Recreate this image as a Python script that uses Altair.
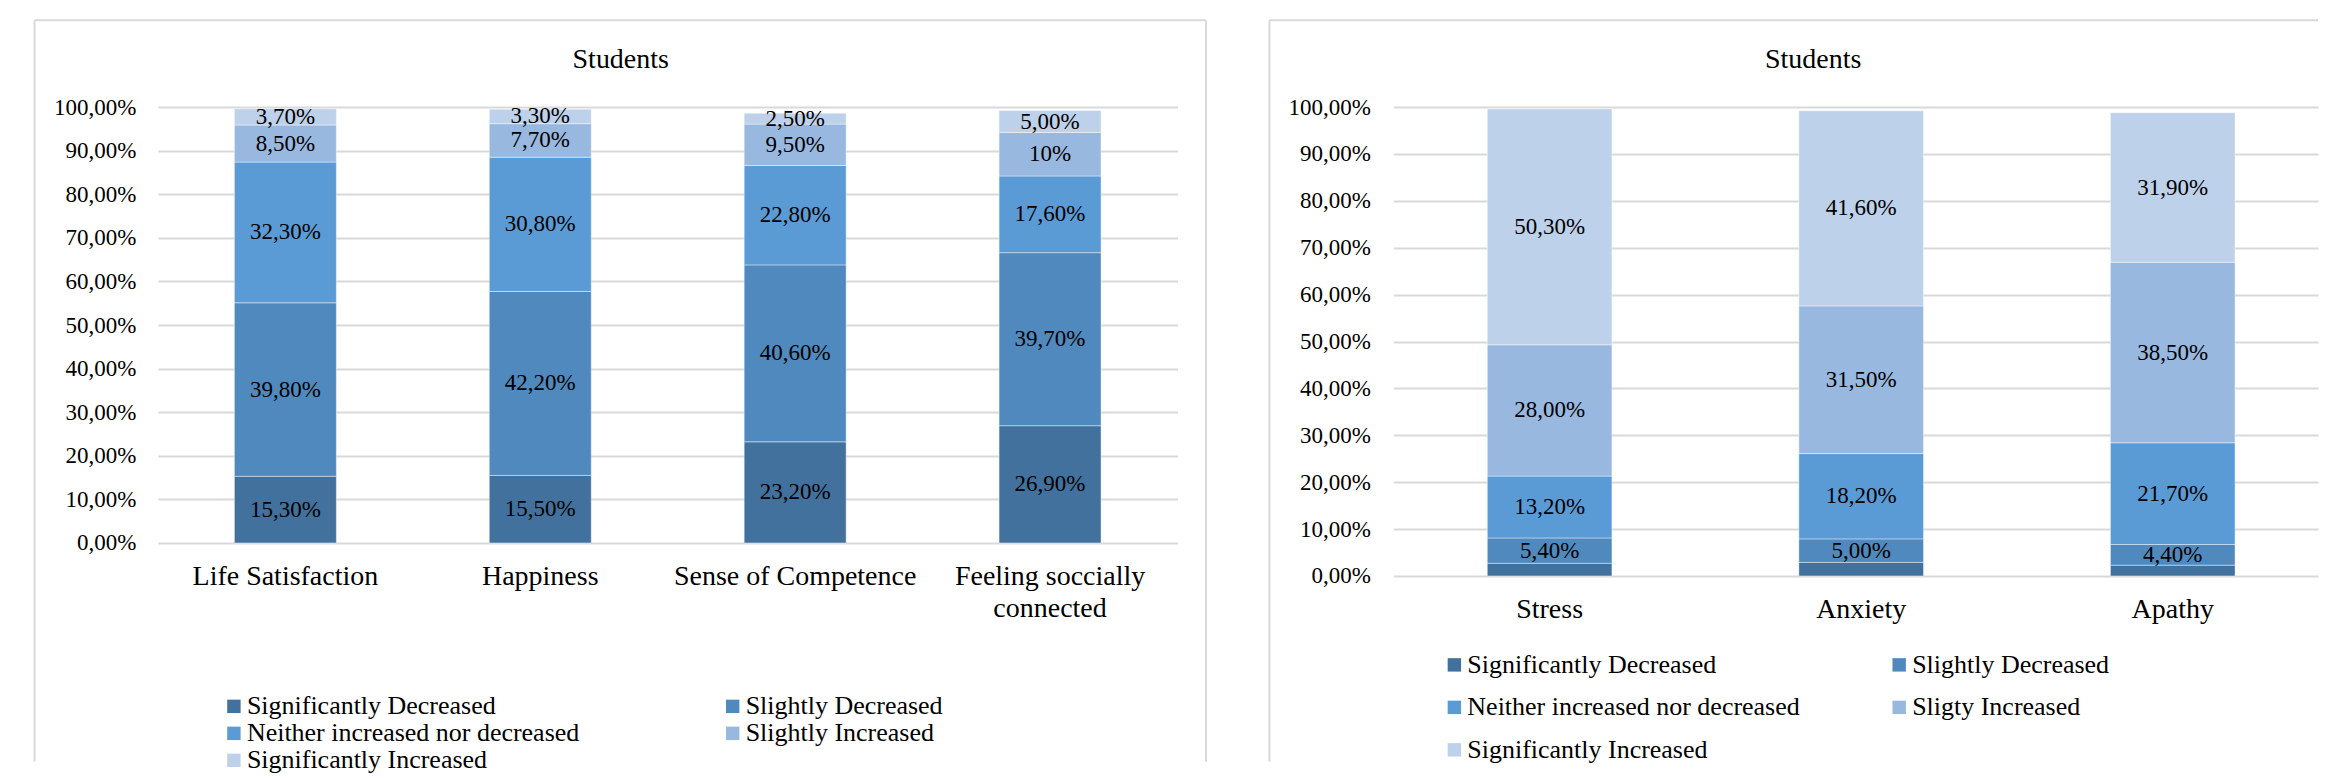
import altair as alt
import pandas as pd

FONT = "Liberation Serif"

# ---------------- data: left panel ----------------
left_title = "Students"
left_categories = ["Life Satisfaction", "Happiness", "Sense of Competence", "Feeling soccially connected"]
left_series = ["Significantly Decreased", "Slightly Decreased", "Neither increased nor decreased",
               "Slightly Increased", "Significantly Increased"]
left_sig_dec = [15.3, 15.5, 23.2, 26.9]
left_sli_dec = [39.8, 42.2, 40.6, 39.7]
left_neither = [32.3, 30.8, 22.8, 17.6]
left_sli_inc = [8.5, 7.7, 9.5, 10.0]
left_sig_inc = [3.7, 3.3, 2.5, 5.0]
left_lab_sig_dec = ["15,30%", "15,50%", "23,20%", "26,90%"]
left_lab_sli_dec = ["39,80%", "42,20%", "40,60%", "39,70%"]
left_lab_neither = ["32,30%", "30,80%", "22,80%", "17,60%"]
left_lab_sli_inc = ["8,50%", "7,70%", "9,50%", "10%"]
left_lab_sig_inc = ["3,70%", "3,30%", "2,50%", "5,00%"]

# ---------------- data: right panel ----------------
right_title = "Students"
right_categories = ["Stress", "Anxiety", "Apathy"]
right_series = ["Significantly Decreased", "Slightly Decreased", "Neither increased nor decreased",
                "Sligty Increased", "Significantly Increased"]
right_sig_dec = [2.7, 2.9, 2.3]
right_sli_dec = [5.4, 5.0, 4.4]
right_neither = [13.2, 18.2, 21.7]
right_sli_inc = [28.0, 31.5, 38.5]
right_sig_inc = [50.3, 41.6, 31.9]
right_lab_sig_dec = ["", "", ""]
right_lab_sli_dec = ["5,40%", "5,00%", "4,40%"]
right_lab_neither = ["13,20%", "18,20%", "21,70%"]
right_lab_sli_inc = ["28,00%", "31,50%", "38,50%"]
right_lab_sig_inc = ["50,30%", "41,60%", "31,90%"]

y_ticks = [0, 10, 20, 30, 40, 50, 60, 70, 80, 90, 100]
colors = ["#41719C", "#4F89BD", "#5B9BD5", "#98B8DF", "#BDD1EA"]

GRID = "#D9D9D9"


def build_df(cats, series, values, labels):
    rows = []
    for si, (name, vals, labs) in enumerate(zip(series, values, labels)):
        for ci, cat in enumerate(cats):
            rows.append({"cat": cat, "series": name, "idx": si,
                         "value": vals[ci], "label": labs[ci]})
    return pd.DataFrame(rows)


def rule(x, x2, y, y2):
    return alt.Chart(alt.Data(values=[{"k": 1}])).mark_rule(
        color=GRID, strokeWidth=2
    ).encode(x=alt.value(x), x2=alt.value(x2), y=alt.value(y), y2=alt.value(y2))


def panel(cats, series, values, labels, title, width, height, x_scale, y_pad,
          title_x, borders, lx, ly, row_pad, col_pad):
    df = build_df(cats, series, values, labels)
    base = alt.Chart(df)
    x_axis = alt.Axis(
        title=None, labelAngle=0, labelFont=FONT, labelFontSize=28, labelColor="black",
        labelPadding=20, ticks=False, tickSize=0, domain=False, labelLimit=600,
        labelLineHeight=32,
        labelExpr="datum.label == 'Feeling soccially connected' ? ['Feeling soccially', 'connected'] : datum.label",
    )
    x_enc = alt.X("cat:N", sort=cats, scale=x_scale, axis=x_axis)
    y_scale = alt.Scale(domain=[0, 100], nice=False, zero=True)
    y_axis = alt.Axis(
        title=None, values=y_ticks, labelFont=FONT, labelFontSize=23, labelColor="black",
        labelPadding=y_pad, ticks=False, tickSize=0, domain=False,
        grid=True, gridColor=GRID, gridWidth=2,
        labelExpr="replace(format(datum.value, '.2f'), '.', ',') + '%'",
    )
    bars = base.mark_bar(stroke="white", strokeWidth=0.6, strokeOpacity=0.7).encode(
        x=x_enc,
        y=alt.Y("value:Q", stack="zero", scale=y_scale, axis=y_axis),
        color=alt.Color(
            "series:N", sort=series,
            scale=alt.Scale(domain=series, range=colors),
            legend=alt.Legend(
                title=None, orient="none", legendX=lx, legendY=ly, columns=2,
                direction="horizontal",
                columnPadding=col_pad, rowPadding=row_pad, symbolType="square",
                symbolSize=180, symbolStrokeWidth=0, labelFont=FONT, labelFontSize=26,
                labelColor="black", labelLimit=600, labelOffset=0, padding=0,
            ),
        ),
        order=alt.Order("idx:Q", sort="ascending"),
    )
    text = base.transform_stack(
        stack="value", groupby=["cat"], as_=["y0", "y1"],
        sort=[alt.SortField("idx", order="ascending")],
    ).transform_calculate(mid="(datum.y0 + datum.y1) / 2").mark_text(
        font=FONT, fontSize=23, color="black", baseline="middle", align="center"
    ).encode(
        x=alt.X("cat:N", sort=cats),
        y=alt.Y("mid:Q"),
        text="label:N",
    )
    ttl = alt.Chart(alt.Data(values=[{"t": title}])).mark_text(
        font=FONT, fontSize=28, color="black", baseline="alphabetic", align="center"
    ).encode(x=alt.value(title_x), y=alt.value(-39), text="t:N")
    layers = [rule(*b) for b in borders] + [bars, text, ttl]
    return alt.layer(*layers).properties(width=width, height=height)


left = panel(
    left_categories, left_series,
    [left_sig_dec, left_sli_dec, left_neither, left_sli_inc, left_sig_inc],
    [left_lab_sig_dec, left_lab_sli_dec, left_lab_neither, left_lab_sli_inc, left_lab_sig_inc],
    left_title, 1020, 436,
    alt.Scale(paddingInner=0.6, paddingOuter=0.3), 22,
    463,
    [(-123.5, -123.5, -87, 655), (-123.5, 1048.5, -87, -87), (1048.5, 1048.5, -87, 655)],
    63, 586.5, 1, 140,
)

right = panel(
    right_categories, right_series,
    [right_sig_dec, right_sli_dec, right_neither, right_sli_inc, right_sig_inc],
    [right_lab_sig_dec, right_lab_sli_dec, right_lab_neither, right_lab_sli_inc, right_lab_sig_inc],
    right_title, 925, 469,
    alt.Scale(paddingInner=0.6, paddingOuter=0.2838, align=0.531), 23,
    420,
    [(-124, -124, -87, 655), (-124, 925, -87, -87)],
    48, 545, 16.5, 86,
)

chart = alt.hconcat(left, right, spacing=61).resolve_scale(
    color="independent", x="independent", y="independent"
).resolve_legend(color="independent").properties(
    padding={"left": 25, "top": 11, "right": 0, "bottom": 0},
    background="white",
).configure_view(strokeWidth=0)

chart.save("out.html", embed_options={"renderer": "svg", "actions": False})
